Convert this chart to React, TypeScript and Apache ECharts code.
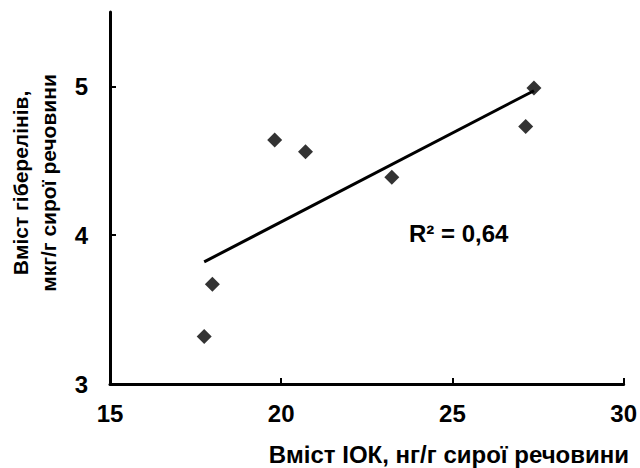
import React, { useEffect, useRef } from "react";
import * as echarts from "echarts";

const iokValues = [17.75, 17.99, 19.81, 20.71, 23.23, 27.14, 27.38];
const gibValues = [3.32, 3.67, 4.64, 4.56, 4.39, 4.73, 4.99];
const xTicks = [15, 20, 25, 30];
const yTicks = [3, 4, 5];
const r2Label = "R² = 0,64";
const xTitle = "Вміст ІОК, нг/г сирої речовини";
const yTitle = "Вміст гіберелінів,\nмкг/г сирої речовини";

const FONT = "'Liberation Sans', Arial, sans-serif";

function regression(xs: number[], ys: number[]) {
  const n = xs.length;
  const mx = xs.reduce((a, b) => a + b, 0) / n;
  const my = ys.reduce((a, b) => a + b, 0) / n;
  let sxy = 0;
  let sxx = 0;
  for (let i = 0; i < n; i++) {
    sxy += (xs[i] - mx) * (ys[i] - my);
    sxx += (xs[i] - mx) * (xs[i] - mx);
  }
  const slope = sxy / sxx;
  const intercept = my - slope * mx;
  return { slope, intercept };
}

export default function App() {
  const ref = useRef<HTMLDivElement>(null);
  useEffect(() => {
    if (!ref.current) return;
    const chart = echarts.init(ref.current, null, { renderer: "svg" });
    const { slope, intercept } = regression(iokValues, gibValues);
    const xMin = Math.min(...iokValues);
    const xMax = Math.max(...iokValues);
    const trend = [
      [xMin, intercept + slope * xMin],
      [xMax, intercept + slope * xMax],
    ];
    chart.setOption({
      animation: false,
      backgroundColor: "#fff",
      grid: { left: 110, right: 14, top: 12, bottom: 84 },
      xAxis: {
        type: "value",
        min: 15,
        max: 30,
        interval: 5,
        axisLine: { show: true, lineStyle: { color: "#000", width: 3 } },
        axisTick: { show: true, inside: true, length: 6, lineStyle: { color: "#000", width: 2 }, customValues: xTicks },
        axisLabel: { color: "#000", fontFamily: FONT, fontWeight: "bold", fontSize: 24, margin: 17, customValues: xTicks },
        splitLine: { show: false },
      },
      yAxis: {
        type: "value",
        min: 3,
        max: 5.5,
        interval: 1,
        axisLine: { show: true, lineStyle: { color: "#000", width: 3 } },
        axisTick: { show: true, inside: true, length: 6, lineStyle: { color: "#000", width: 2 }, customValues: yTicks },
        axisLabel: { color: "#000", fontFamily: FONT, fontWeight: "bold", fontSize: 24, margin: 22, customValues: yTicks },
        splitLine: { show: false },
      },
      series: [
        {
          type: "line",
          data: trend,
          showSymbol: false,
          symbol: "none",
          lineStyle: { color: "#000", width: 3 },
          z: 2,
        },
        {
          type: "scatter",
          data: iokValues.map((x, i) => [x, gibValues[i]]),
          symbol: "diamond",
          symbolSize: 15,
          itemStyle: { color: "#000" },
          z: 3,
        },
      ],
      graphic: [
        {
          type: "text",
          x: 409,
          y: 233,
          style: { text: r2Label, fill: "#000", font: `bold 24px ${FONT}`, textVerticalAlign: "middle" },
        },
        {
          type: "text",
          x: 629,
          y: 454,
          style: { text: xTitle, fill: "#000", font: `bold 24px ${FONT}`, textAlign: "right", textVerticalAlign: "middle" },
        },
        {
          type: "text",
          x: 34,
          y: 183,
          rotation: Math.PI / 2,
          style: {
            text: yTitle,
            fill: "#000",
            font: `bold 21px ${FONT}`,
            textAlign: "center",
            textVerticalAlign: "middle",
            lineHeight: 28,
          },
        },
      ],
    });
    return () => chart.dispose();
  }, []);
  return <div ref={ref} style={{ position: "fixed", left: 0, top: 0, width: 640, height: 468 }} />;
}
